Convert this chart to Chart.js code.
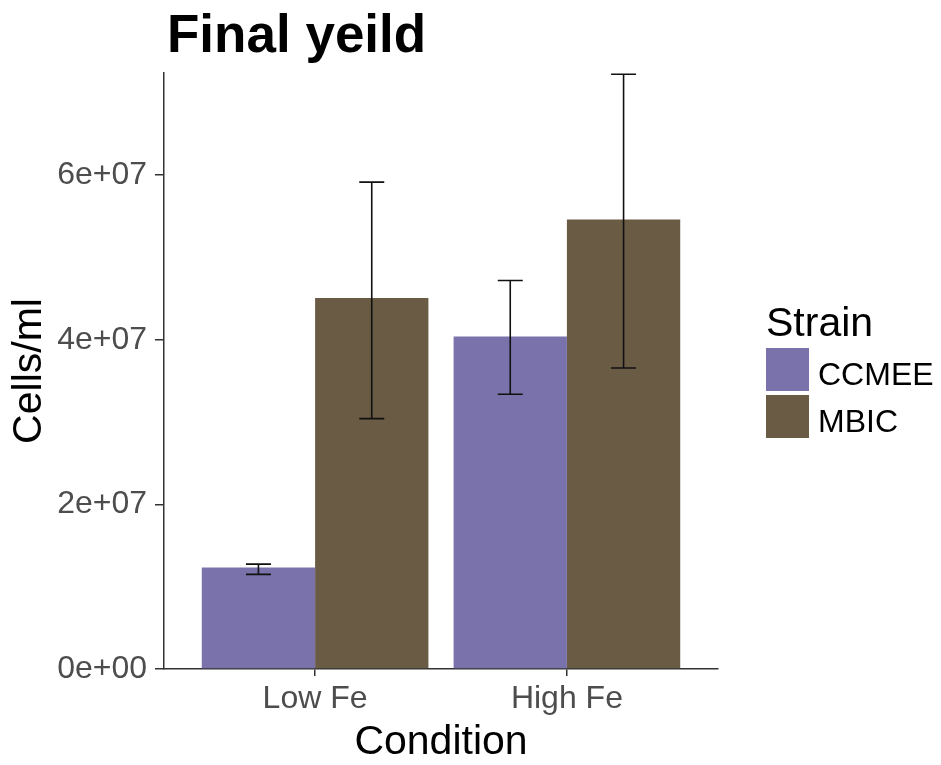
<!DOCTYPE html>
<html>

<head>
    <title>Final yeild</title>
    <script src="https://cdn.jsdelivr.net/npm/chart.js"></script>
    <style>
        body { margin: 0; background: #fff; }
        #chart { display: block; }
    </style>
</head>

<body>
    <canvas id="chart" width="941" height="765"></canvas>
    <script>
        // data
        const categories = ['Low Fe', 'High Fe'];
        const strains = ['CCMEE', 'MBIC'];
        const ccmeeMean = [1.234e7, 4.04e7];
        const ccmeeLow = [1.149e7, 3.337e7];
        const ccmeeHigh = [1.274e7, 4.72e7];
        const mbicMean = [4.506e7, 5.46e7];
        const mbicLow = [3.042e7, 3.657e7];
        const mbicHigh = [5.914e7, 7.224e7];
        const yTickValues = [0, 2e7, 4e7, 6e7];
        const yTickLabels = ['0e+00', '2e+07', '4e+07', '6e+07'];
        const yMax = 7.24e7;

        const colors = ['#7a72ab', '#6a5b45'];
        const errLow = [ccmeeLow, mbicLow];
        const errHigh = [ccmeeHigh, mbicHigh];
        const FONT = '"Liberation Sans", Arial, sans-serif';

        function toPoints(arr) {
            return categories.map((c, i) => ({ x: i + 1, y: arr[i] }));
        }

        //error bars drawn on top of the bars
        const errorBars = {
            id: 'errorBars',
            afterDatasetsDraw(chart) {
                const ctx = chart.ctx;
                const yScale = chart.scales.y;
                ctx.save();
                ctx.strokeStyle = '#111';
                ctx.lineWidth = 1.6;
                chart.data.datasets.forEach((ds, i) => {
                    chart.getDatasetMeta(i).data.forEach((bar, j) => {
                        const top = yScale.getPixelForValue(errHigh[i][j]);
                        const bot = yScale.getPixelForValue(errLow[i][j]);
                        const half = 12.5;
                        ctx.beginPath();
                        ctx.moveTo(bar.x, top); ctx.lineTo(bar.x, bot);
                        ctx.moveTo(bar.x - half, top); ctx.lineTo(bar.x + half, top);
                        ctx.moveTo(bar.x - half, bot); ctx.lineTo(bar.x + half, bot);
                        ctx.stroke();
                    });
                });
                ctx.restore();
            }
        };

        //title left-aligned with the plot panel, legend to the right
        const sideBits = {
            id: 'sideBits',
            afterDraw(chart) {
                const ctx = chart.ctx;
                const area = chart.chartArea;
                ctx.save();
                ctx.fillStyle = '#000';
                ctx.textBaseline = 'alphabetic';
                ctx.textAlign = 'left';
                ctx.font = 'bold 53px ' + FONT;
                ctx.fillText('Final yeild', area.left + 3, 52);

                const lx = area.right + 48;
                ctx.font = '41px ' + FONT;
                ctx.fillText('Strain', lx, 336);
                ctx.font = '32px ' + FONT;
                chart.data.datasets.forEach((ds, i) => {
                    const ky = 348 + i * 47;
                    ctx.fillStyle = ds.backgroundColor;
                    ctx.fillRect(lx, ky, 43, 43);
                    ctx.fillStyle = '#000';
                    ctx.fillText(ds.label, lx + 52, ky + 37);
                });
                ctx.restore();
            }
        };

        const chart = new Chart(document.getElementById('chart'), {
            type: 'bar',
            data: {
                datasets: [
                    { label: strains[0], data: toPoints(ccmeeMean), backgroundColor: colors[0] },
                    { label: strains[1], data: toPoints(mbicMean), backgroundColor: colors[1] }
                ]
            },
            options: {
                responsive: false,
                animation: false,
                layout: { padding: { top: 73, right: 223, left: 0, bottom: 0 } },
                datasets: { bar: { categoryPercentage: 0.9, barPercentage: 1.0, borderWidth: 0 } },
                plugins: {
                    legend: { display: false },
                    title: { display: false },
                    tooltip: { enabled: false }
                },
                scales: {
                    x: {
                        type: 'linear',
                        min: 0.4,
                        max: 2.6,
                        offset: false,
                        afterBuildTicks(scale) {
                            scale.ticks = categories.map((c, i) => ({ value: i + 1 }));
                        },
                        afterFit(scale) { scale.height = 96; },
                        ticks: {
                            callback: (v) => categories[v - 1],
                            color: '#4d4d4d',
                            font: { family: FONT, size: 32 },
                            padding: 4,
                            maxRotation: 0
                        },
                        grid: { offset: false, drawOnChartArea: false, color: '#333', lineWidth: 1.5, tickLength: 7 },
                        border: { color: '#333', width: 1.5 },
                        title: {
                            display: true,
                            text: 'Condition',
                            color: '#000',
                            font: { family: FONT, size: 41, lineHeight: 1 },
                            padding: { top: 0, bottom: 2 }
                        }
                    },
                    y: {
                        min: 0,
                        max: yMax,
                        afterBuildTicks(scale) {
                            scale.ticks = yTickValues.map(v => ({ value: v }));
                        },
                        afterFit(scale) { scale.width = 164; },
                        ticks: {
                            callback: (v) => yTickLabels[yTickValues.indexOf(v)],
                            color: '#4d4d4d',
                            font: { family: FONT, size: 32 },
                            padding: 8
                        },
                        grid: { drawOnChartArea: false, color: '#333', lineWidth: 1.5, tickLength: 9 },
                        border: { color: '#333', width: 1.5 },
                        title: {
                            display: true,
                            text: 'Cells/ml',
                            color: '#000',
                            font: { family: FONT, size: 41, lineHeight: 1 },
                            padding: { top: 9, bottom: 0 }
                        }
                    }
                }
            },
            plugins: [errorBars, sideBits]
        });
    </script>
</body>

</html>
